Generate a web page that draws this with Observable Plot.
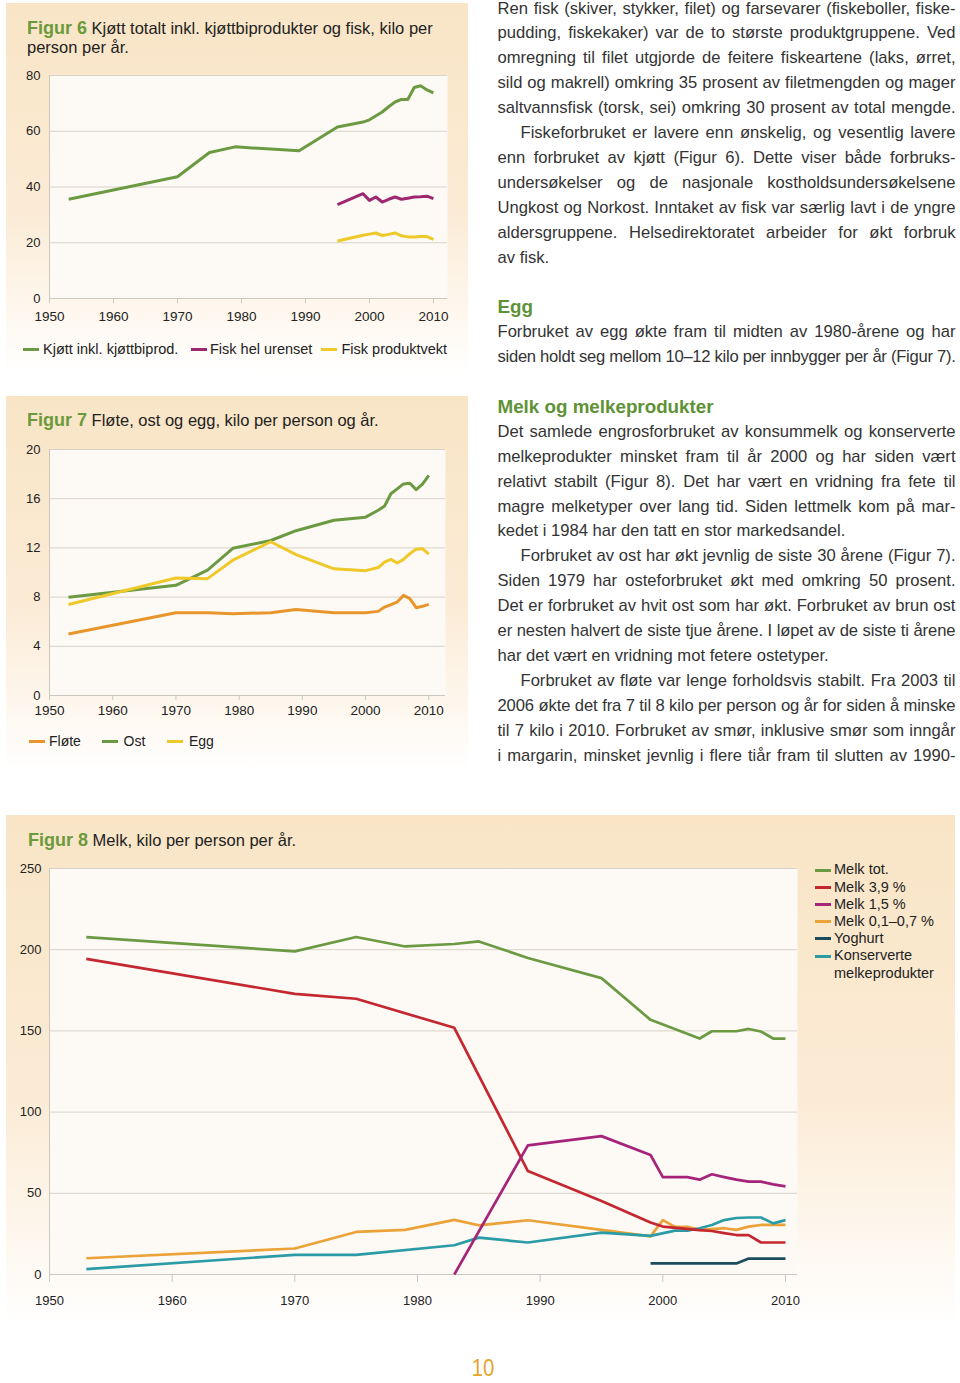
<!DOCTYPE html>
<html><head><meta charset="utf-8">
<script src="https://cdn.jsdelivr.net/npm/d3@7"></script>
<script src="https://cdn.jsdelivr.net/npm/@observablehq/plot@0.6"></script>
<style>
html,body{margin:0;padding:0;background:#fff;}
body{width:960px;height:1383px;position:relative;overflow:hidden;font-family:"Liberation Sans",Arial,Helvetica,sans-serif;}
.panel{position:absolute;background:linear-gradient(to bottom,#f9e5c6 0%,#fbebd5 55%,#fef8f0 85%,#ffffff 100%);}
.title{position:absolute;font-size:16.5px;line-height:19px;color:#222;white-space:nowrap;}
.title b{color:#6a9a3c;font-size:18px;}
.leg{position:absolute;font-size:14.5px;color:#222;white-space:nowrap;line-height:18px;}
.sw{position:absolute;height:3px;}
.line{position:absolute;height:24.9px;line-height:24.9px;font-size:16.6px;color:#333;white-space:nowrap;}
.head{font-weight:bold;color:#5e9236;font-size:18.8px;}
.chart{position:absolute;left:0;}
.pnum{position:absolute;left:460px;top:1354px;width:46px;text-align:center;font-size:24px;line-height:28px;color:#e8a52a;transform:scaleX(0.85);}
</style></head><body>
<script>
// ---------------- DATA ----------------
// Figur 6: Kjøtt totalt inkl. kjøttbiprodukter og fisk, kilo per person per år
const years6Kjott = [1953,1970,1975,1979,1989,1995,1999,2000,2002,2003,2004,2005,2006,2007,2008,2009,2010];
const kjott       = [35.6,43.7,52.4,54.4,53.0,61.5,63.3,64.1,66.9,68.8,70.5,71.4,71.4,75.7,76.3,74.8,73.8];
const years6Fisk  = [1995,1999,2000,2001,2002,2003,2004,2005,2006,2007,2008,2009,2010];
const fiskHel     = [33.7,37.6,35.2,36.4,34.6,35.6,36.4,35.6,36.0,36.4,36.5,36.7,35.8];
const fiskProdukt = [20.6,22.7,23.1,23.5,22.6,23.0,23.5,22.5,22.1,22.1,22.2,22.2,21.2];
const labels6 = ["Kjøtt inkl. kjøttbiprod.","Fisk hel urenset","Fisk produktvekt"];

// Figur 7: Fløte, ost og egg, kilo per person og år
const years7 = [1953,1970,1975,1979,1985,1989,1995,2000,2002,2003,2004,2005,2006,2007,2008,2009,2010];
const flote  = [5.0,6.73,6.73,6.65,6.73,7.0,6.73,6.73,6.84,7.19,7.38,7.6,8.14,7.87,7.14,7.25,7.41];
const ost    = [7.98,8.96,10.2,11.97,12.6,13.4,14.25,14.5,15.06,15.4,16.4,16.8,17.2,17.26,16.74,17.18,17.9];
const egg    = [7.4,9.55,9.5,11.0,12.5,11.45,10.3,10.15,10.4,10.85,11.07,10.77,11.07,11.53,11.9,11.94,11.5];
const labels7 = ["Fløte","Ost","Egg"];

// Figur 8: Melk, kilo per person per år
const years8Tot  = [1953,1970,1975,1979,1983,1985,1989,1995,1999,2003,2004,2005,2006,2007,2008,2009,2010];
const melkTot    = [207.8,199,207.8,202,203.5,205.1,194.9,182.5,156.8,145.3,149.8,149.8,149.8,151.2,149.6,145.3,145.3];
const years8H    = [1953,1970,1975,1983,1989,1995,1999,2000,2003,2004,2005,2006,2007,2008,2009,2010];
const melk39     = [194.4,172.8,169.8,151.9,63.7,45.3,32.0,29.5,27.3,26.8,25.5,24.3,24.3,19.7,19.7,19.7];
const years8L    = [1983,1989,1995,1999,2000,2001,2002,2003,2004,2005,2006,2007,2008,2009,2010];
const melk15     = [0,79.5,85.2,73.6,60,60,60,58.4,61.7,60,58.4,57.2,57.2,55.5,54.3];
const years8S    = [1953,1970,1975,1979,1983,1985,1989,1995,1999,2000,2001,2002,2003,2004,2005,2006,2007,2008,2009,2010];
const melk01     = [10,16,26.2,27.5,33.6,30.3,33.4,27.5,23.5,33.5,29.3,29.3,27.5,28,28.5,27.5,29.5,30.5,30.5,30.5];
const years8Y    = [1999,2000,2001,2002,2003,2004,2005,2006,2007,2008,2009,2010];
const yoghurt    = [6.8,6.8,6.8,6.8,6.8,6.8,6.8,6.8,9.8,9.8,9.8,9.8];
const years8K    = [1953,1970,1975,1983,1985,1989,1995,1999,2001,2002,2003,2004,2005,2006,2007,2008,2009,2010];
const konserverte= [3.3,12.1,12.1,18,22.7,19.7,25.8,23.8,27,27,28.5,30.5,33.5,34.8,35.1,35.1,31.5,33.5];
const labels8 = ["Melk tot.","Melk 3,9 %","Melk 1,5 %","Melk 0,1–0,7 %","Yoghurt","Konserverte<br>melkeprodukter"];

const xTicks = [1950,1960,1970,1980,1990,2000,2010];
const yTicks6 = [0,20,40,60,80];
const yTicks7 = [0,4,8,12,16,20];
const yTicks8 = [0,50,100,150,200,250];

// Body text
const bodyLines = [
 ["j","Ren fisk (skiver, stykker, filet) og farsevarer (fiskeboller, fiske-"],
 ["j","pudding, fiskekaker) var de to største produktgruppene. Ved"],
 ["j","omregning til filet utgjorde de feitere fiskeartene (laks, ørret,"],
 ["j","sild og makrell) omkring 35 prosent av filetmengden og mager"],
 ["j","saltvannsfisk (torsk, sei) omkring 30 prosent av total mengde."],
 ["ji","Fiskeforbruket er lavere enn ønskelig, og vesentlig lavere"],
 ["j","enn forbruket av kjøtt (Figur 6). Dette viser både forbruks-"],
 ["j","undersøkelser og de nasjonale kostholdsundersøkelsene"],
 ["j","Ungkost og Norkost. Inntaket av fisk var særlig lavt i de yngre"],
 ["j","aldersgruppene. Helsedirektoratet arbeider for økt forbruk"],
 ["l","av fisk."],
 ["",""],
 ["h","Egg"],
 ["j","Forbruket av egg økte fram til midten av 1980-årene og har"],
 ["j","siden holdt seg mellom 10–12 kilo per innbygger per år (Figur 7)."],
 ["",""],
 ["h","Melk og melkeprodukter"],
 ["j","Det samlede engrosforbruket av konsummelk og konserverte"],
 ["j","melkeprodukter minsket fram til år 2000 og har siden vært"],
 ["j","relativt stabilt (Figur 8). Det har vært en vridning fra fete til"],
 ["j","magre melketyper over lang tid. Siden lettmelk kom på mar-"],
 ["l","kedet i 1984 har den tatt en stor markedsandel."],
 ["ji","Forbruket av ost har økt jevnlig de siste 30 årene (Figur 7)."],
 ["j","Siden 1979 har osteforbruket økt med omkring 50 prosent."],
 ["j","Det er forbruket av hvit ost som har økt. Forbruket av brun ost"],
 ["j","er nesten halvert de siste tjue årene. I løpet av de siste ti årene"],
 ["l","har det vært en vridning mot fetere ostetyper."],
 ["ji","Forbruket av fløte var lenge forholdsvis stabilt. Fra 2003 til"],
 ["j","2006 økte det fra 7 til 8 kilo per person og år for siden å minske"],
 ["j","til 7 kilo i 2010. Forbruket av smør, inklusive smør som inngår"],
 ["j","i margarin, minsket jevnlig i flere tiår fram til slutten av 1990-"]
];

// ---------------- HELPERS ----------------
const rows = (xs, ys) => xs.map((x, i) => ({year: x, value: ys[i]}));
function add(cls, css, html) {
  const d = document.createElement("div");
  d.className = cls;
  Object.assign(d.style, css);
  if (html != null) d.innerHTML = html;
  document.body.appendChild(d);
  return d;
}
function chart(o) {
  const svg = Plot.plot({
    width: o.width, height: o.height,
    marginLeft: o.ml, marginRight: o.mr, marginTop: o.mt, marginBottom: o.mb,
    style: {background: "transparent", fontFamily: "Liberation Sans, Arial, sans-serif", fontSize: "13px", color: "#222", overflow: "visible"},
    x: {domain: o.xDomain, label: null},
    y: {domain: o.yDomain, label: null},
    marks: [
      Plot.frame({fill: "#fdfaf5", stroke: "none"}),
      Plot.ruleY(o.yTicks.filter(d => d > 0), {stroke: "#d8d2c8", strokeWidth: 1}),
      Plot.ruleX([o.xDomain[0]], {stroke: "#cdc7bd", strokeWidth: 1}),
      Plot.ruleY([0], {stroke: "#cdc7bd", strokeWidth: 1}),
      Plot.axisX({ticks: xTicks, tickFormat: d => String(d), tickSize: o.tickSize, tickPadding: o.tickPadding,
                  stroke: "#cdc7bd", fill: "#222", fontSize: o.xFont, label: null}),
      Plot.axisY({ticks: o.yTicks, tickSize: 0, tickPadding: o.yPad, fill: "#222", fontSize: o.yFont, label: null}),
      ...o.series.map(s => Plot.line(s.data, {x: "year", y: "value", stroke: s.color, strokeWidth: o.sw,
                                               strokeLinejoin: "round", strokeLinecap: "butt"}))
    ]
  });
  svg.classList.add("chart");
  svg.style.top = o.top + "px";
  document.body.appendChild(svg);
  return svg;
}

// ---------------- FIGUR 6 ----------------
const C = {green: "#6b9a43", magenta: "#9e2870", yellow: "#efc92a", orange: "#e8962c",
           red: "#c4272f", mag2: "#a5247a", orange2: "#eba238", navy: "#1b4d5e", teal: "#2b9ba6"};

add("panel", {left: "6px", top: "3px", width: "462px", height: "372px"});
add("title", {left: "27px", top: "19px"}, "<b>Figur 6</b> Kjøtt totalt inkl. kjøttbiprodukter og fisk, kilo per<br>person per år.");
chart({top: 65, width: 470, height: 265, ml: 49, mr: 23, mt: 10, mb: 32,
       xDomain: [1950, 2012.2], yDomain: [0, 80], yTicks: yTicks6,
       tickSize: 5, tickPadding: 8, xFont: 13.5, yFont: 13, yPad: 9, sw: 3,
       series: [
         {data: rows(years6Kjott, kjott), color: C.green},
         {data: rows(years6Fisk, fiskHel), color: C.magenta},
         {data: rows(years6Fisk, fiskProdukt), color: C.yellow}
       ]});
[[23, 43, C.green], [191, 210, C.magenta], [321, 341.5, C.yellow]].forEach(([sx, tx, col], i) => {
  add("sw", {left: sx + "px", top: "347.8px", width: "15.5px", background: col});
  add("leg", {left: tx + "px", top: "340.3px"}, labels6[i]);
});

// ---------------- FIGUR 7 ----------------
add("panel", {left: "6px", top: "396px", width: "462px", height: "374px"});
add("title", {left: "27px", top: "410.6px"}, "<b>Figur 7</b> Fløte, ost og egg, kilo per person og år.");
chart({top: 439, width: 470, height: 286, ml: 49, mr: 25, mt: 10, mb: 30,
       xDomain: [1950, 2012.64], yDomain: [0, 20], yTicks: yTicks7,
       tickSize: 5, tickPadding: 5, xFont: 13.5, yFont: 13, yPad: 9, sw: 3,
       series: [
         {data: rows(years7, flote), color: C.orange},
         {data: rows(years7, ost), color: C.green},
         {data: rows(years7, egg), color: C.yellow}
       ]});
[[29, 49, C.orange], [102, 123.5, C.green], [167, 189, C.yellow]].forEach(([sx, tx, col], i) => {
  add("sw", {left: sx + "px", top: "739.5px", width: "15.5px", background: col});
  add("leg", {left: tx + "px", top: "732px", fontSize: "14px"}, labels7[i]);
});

// ---------------- FIGUR 8 ----------------
add("panel", {left: "6px", top: "815px", width: "949px", height: "510px"});
add("title", {left: "28px", top: "830.6px"}, "<b>Figur 8</b> Melk, kilo per person per år.");
chart({top: 858, width: 810, height: 456, ml: 49, mr: 13, mt: 10, mb: 40,
       xDomain: [1950, 2010.98], yDomain: [0, 250], yTicks: yTicks8,
       tickSize: 8, tickPadding: 13, xFont: 13, yFont: 13, yPad: 8, sw: 2.7,
       series: [
         {data: rows(years8Tot, melkTot), color: C.green},
         {data: rows(years8S, melk01), color: C.orange2},
         {data: rows(years8K, konserverte), color: C.teal},
         {data: rows(years8H, melk39), color: C.red},
         {data: rows(years8L, melk15), color: C.mag2},
         {data: rows(years8Y, yoghurt), color: C.navy}
       ]});
const leg8Colors = [C.green, C.red, C.mag2, C.orange2, C.navy, C.teal];
labels8.forEach((lab, i) => {
  const cy = 870 + 17.2 * i;
  add("sw", {left: "815px", top: (cy - 1.5) + "px", width: "15.5px", background: leg8Colors[i]});
  add("leg", {left: "834px", top: (cy - 8.6) + "px", lineHeight: "17.2px"}, lab);
});

// ---------------- BODY TEXT ----------------
const colLeft = 497.5, colWidth = 458;
bodyLines.forEach(([kind, txt], i) => {
  if (!kind) return;
  const indent = kind === "ji" ? 23 : 0;
  const d = add("line" + (kind === "h" ? " head" : ""), {left: (colLeft + indent) + "px", top: (9 + 24.9 * i - 12.45) + "px"});
  const span = document.createElement("span");
  span.textContent = txt;
  d.appendChild(span);
  if (kind[0] === "j") {
    const target = colWidth - indent;
    const nSp = (txt.match(/ /g) || []).length;
    let w = span.getBoundingClientRect().width;
    if (w > target) {
      span.style.letterSpacing = ((target - w) / txt.length) + "px";
      w = span.getBoundingClientRect().width;
    }
    if (nSp > 0) span.style.wordSpacing = ((target - w) / nSp) + "px";
  }
});

add("pnum", {}, "10");
</script>
</body></html>
